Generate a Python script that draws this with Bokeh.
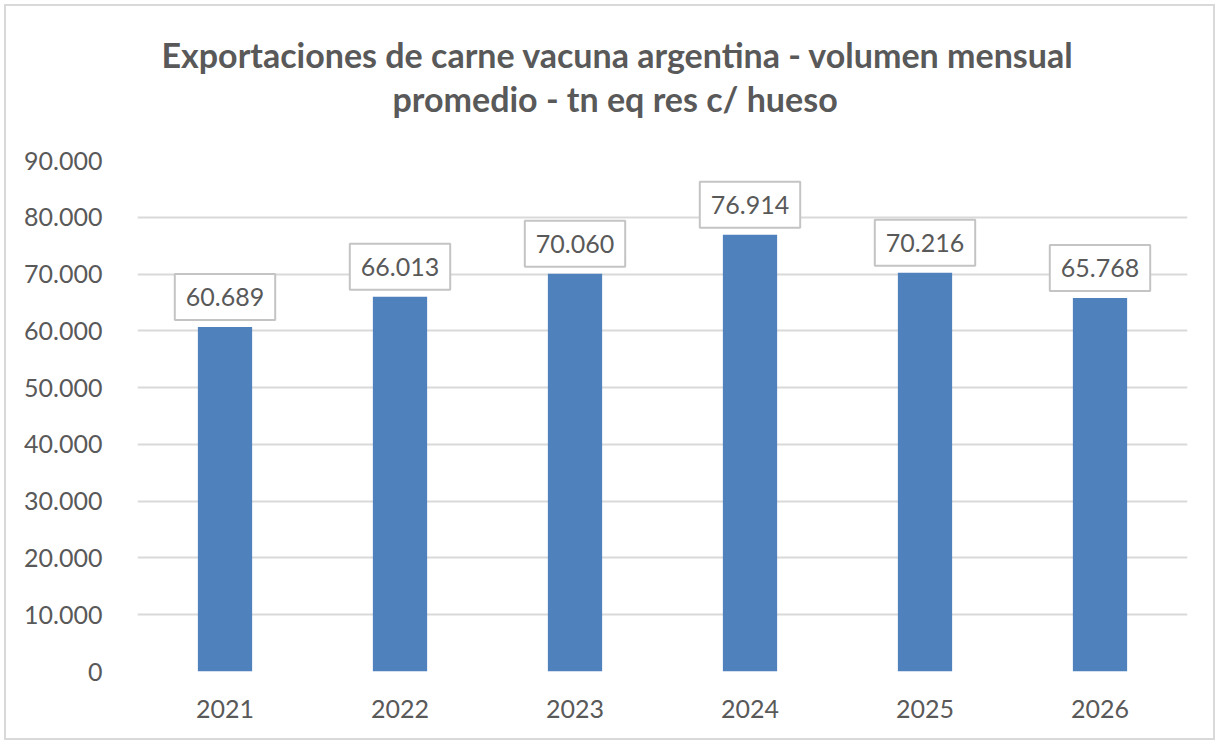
from bokeh.plotting import figure
from bokeh.models import Range1d, FixedTicker, Label, Title
from bokeh.embed import file_html
from bokeh.resources import INLINE

# ---- data ----
years = ["2021", "2022", "2023", "2024", "2025", "2026"]
volumes = [60689, 66013, 70060, 76914, 70216, 65768]
y_ticks = [0, 10000, 20000, 30000, 40000, 50000, 60000, 70000, 80000, 90000]
y_tick_labels = ["0", "10.000", "20.000", "30.000", "40.000", "50.000",
                 "60.000", "70.000", "80.000", "90.000"]
title_line1 = "Exportaciones de carne vacuna argentina - volumen mensual"
title_line2 = "promedio - tn eq res  c/ hueso"

TEXT = "#595959"
GRID = "#D9D9D9"
BAR = "#4F81BD"
FONT = "Lato"

# categorical positions (slot centres)
xpos = [i + 0.5 for i in range(len(years))]

p = figure(x_range=Range1d(0, len(years)), y_range=Range1d(0, 90000),
           width=1211, height=736, output_backend="svg", toolbar_location=None,
           title=None,
           min_border_left=131, min_border_right=30, min_border_top=154,
           min_border_bottom=71)
p.styles = {"border": "2px solid #D9D9D9", "margin-left": "4px",
            "margin-top": "4px"}

p.vbar(x=xpos, top=volumes, width=0.31, color=BAR, line_color=None)

# title lines: added nearest-to-frame first
for txt, so, off in ((title_line2, 84, 255), (title_line1, -82, 24)):
    p.add_layout(Title(text=txt, align="left", offset=off, text_font=FONT,
                       text_font_style="bold", text_font_size="34px",
                       text_color=TEXT, standoff=so), "above")

p.outline_line_color = None
p.xgrid.grid_line_color = None
p.ygrid.grid_line_color = GRID
p.ygrid.grid_line_width = 2

p.yaxis.ticker = FixedTicker(ticks=y_ticks)
p.yaxis.major_label_overrides = {t: l for t, l in zip(y_ticks, y_tick_labels)}
p.xaxis.ticker = FixedTicker(ticks=xpos)
p.xaxis.major_label_overrides = {x: y for x, y in zip(xpos, years)}
for ax in (p.xaxis, p.yaxis):
    ax.axis_line_color = None
    ax.major_tick_line_color = None
    ax.minor_tick_line_color = None
    ax.major_label_text_font = FONT
    ax.major_label_text_font_size = "25px"
    ax.major_label_text_color = TEXT
p.yaxis.major_label_standoff = 29
p.xaxis.major_label_standoff = 22

for x, v in zip(xpos, volumes):
    txt = f"{v:,}".replace(",", ".")
    p.add_layout(Label(x=x, y=v, text=txt, y_offset=7, text_align="center",
                       text_baseline="bottom", text_font=FONT,
                       text_font_size="25px", text_color=TEXT,
                       background_fill_color="white",
                       border_line_color="#C4C4C4", border_line_width=2,
                       padding=(11, 14)))

open("out.html", "w").write(file_html(p, INLINE))
